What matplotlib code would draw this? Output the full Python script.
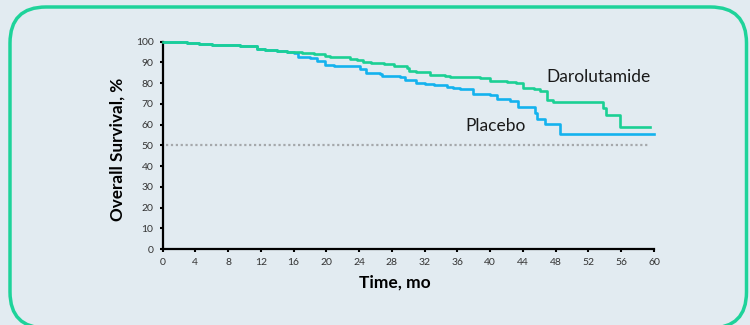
import matplotlib
matplotlib.use("Agg")
import matplotlib.pyplot as plt
from matplotlib.patches import FancyBboxPatch
from matplotlib.transforms import IdentityTransform

# Kaplan-Meier curves (months, % surviving)
daro_t = [0, 1.5, 3, 4.5, 6, 9.5, 11.5, 12.5, 14, 15.2, 17, 18.5, 19.8, 20.5,
          22.9, 23.8, 24.5, 25.5, 27, 28.2, 29.8, 30.1, 31, 32.7, 34.5, 35.1,
          38.8, 40, 42, 43.2, 44, 45.3, 46.1, 46.9, 47.7, 53.8, 54.2, 55.9, 59.5]
daro_s = [100, 99.6, 99.2, 98.7, 98.2, 97.9, 96.2, 95.7, 95.2, 94.8, 94.5, 94.0,
          93.2, 92.3, 91.6, 91.0, 90.0, 89.5, 89.0, 88.4, 87.3, 85.7, 85.3, 84.0,
          83.2, 82.9, 82.4, 80.9, 80.5, 80.0, 77.6, 77.2, 76.0, 72.0, 70.7, 68.0,
          64.7, 59.0, 59.0]

plac_t = [0, 1.5, 3, 4.5, 6, 9.5, 11.5, 12.5, 14, 15.2, 16.0, 16.6, 18.0, 18.8,
          19.8, 20.9, 24.1, 24.9, 26.6, 26.8, 29.0, 29.6, 31.0, 32.0, 33.1, 34.7,
          35.5, 36.3, 37.9, 40.0, 40.8, 42.4, 43.4, 44.7, 45.5, 45.7, 46.7, 48.5,
          60.0]
plac_s = [100, 99.6, 99.2, 98.7, 98.2, 97.9, 96.2, 95.7, 95.2, 94.8, 94.4, 92.4,
          92.0, 90.4, 88.7, 88.2, 86.6, 85.0, 84.3, 83.2, 82.8, 81.6, 80.2, 79.6,
          79.1, 78.0, 77.5, 76.9, 74.8, 74.0, 72.3, 71.4, 68.6, 68.3, 65.4, 62.5,
          60.2, 55.2, 55.2]

median_line = 50
x_ticks = list(range(0, 61, 4))
y_ticks = list(range(0, 101, 10))

bg = "#E2EBF1"
green = "#1BD094"
blue = "#14B2EE"

plt.rcParams["font.family"] = ["Lato", "DejaVu Sans"]

fig = plt.figure(figsize=(7.5, 3.25), dpi=100)
fig.patch.set_facecolor(bg)

# rounded green frame (pixel coordinates)
frame = FancyBboxPatch((10, -3), 736.5, 321,
                       boxstyle="round,pad=0,rounding_size=36",
                       transform=IdentityTransform(), facecolor="none",
                       edgecolor="#1ED39A", linewidth=2.5)
fig.patches.append(frame)

ax = fig.add_axes([0.2167, 0.2338, 0.6553, 0.6385])
ax.set_facecolor("none")

ax.plot([0.4, 59.5], [median_line, median_line], color="#A5A8AB",
        linestyle=(0, (1, 1.2)), linewidth=1.6, zorder=1)
ax.step(plac_t, plac_s, where="post", color=blue, linewidth=1.9, zorder=2,
        clip_on=False)
ax.step(daro_t, daro_s, where="post", color=green, linewidth=1.9, zorder=3,
        clip_on=False)

ax.text(53.2, 82.8, "Darolutamide", fontsize=12.5, ha="center", va="center",
        color="#1A1A1A")
ax.text(40.6, 59.2, "Placebo", fontsize=12.5, ha="center", va="center",
        color="#1A1A1A")

ax.set_xlim(0, 60)
ax.set_ylim(0, 100)
ax.set_xticks(x_ticks)
ax.set_yticks(y_ticks)
ax.tick_params(labelsize=7.5, length=2.5, width=1.5, color="black",
               labelcolor="#333333", pad=4)

for side in ["top", "right"]:
    ax.spines[side].set_visible(False)
for side in ["left", "bottom"]:
    ax.spines[side].set_linewidth(1.6)
    ax.spines[side].set_color("black")

ax.set_xlabel("Time, mo", fontsize=12.5, fontweight="bold")
ax.xaxis.set_label_coords(0.473, -0.125)
ax.set_ylabel("Overall Survival, %", fontsize=12.3, fontweight="bold")
ax.yaxis.set_label_coords(-0.076, 0.482)

fig.savefig("out.png", dpi=100, facecolor=bg)
